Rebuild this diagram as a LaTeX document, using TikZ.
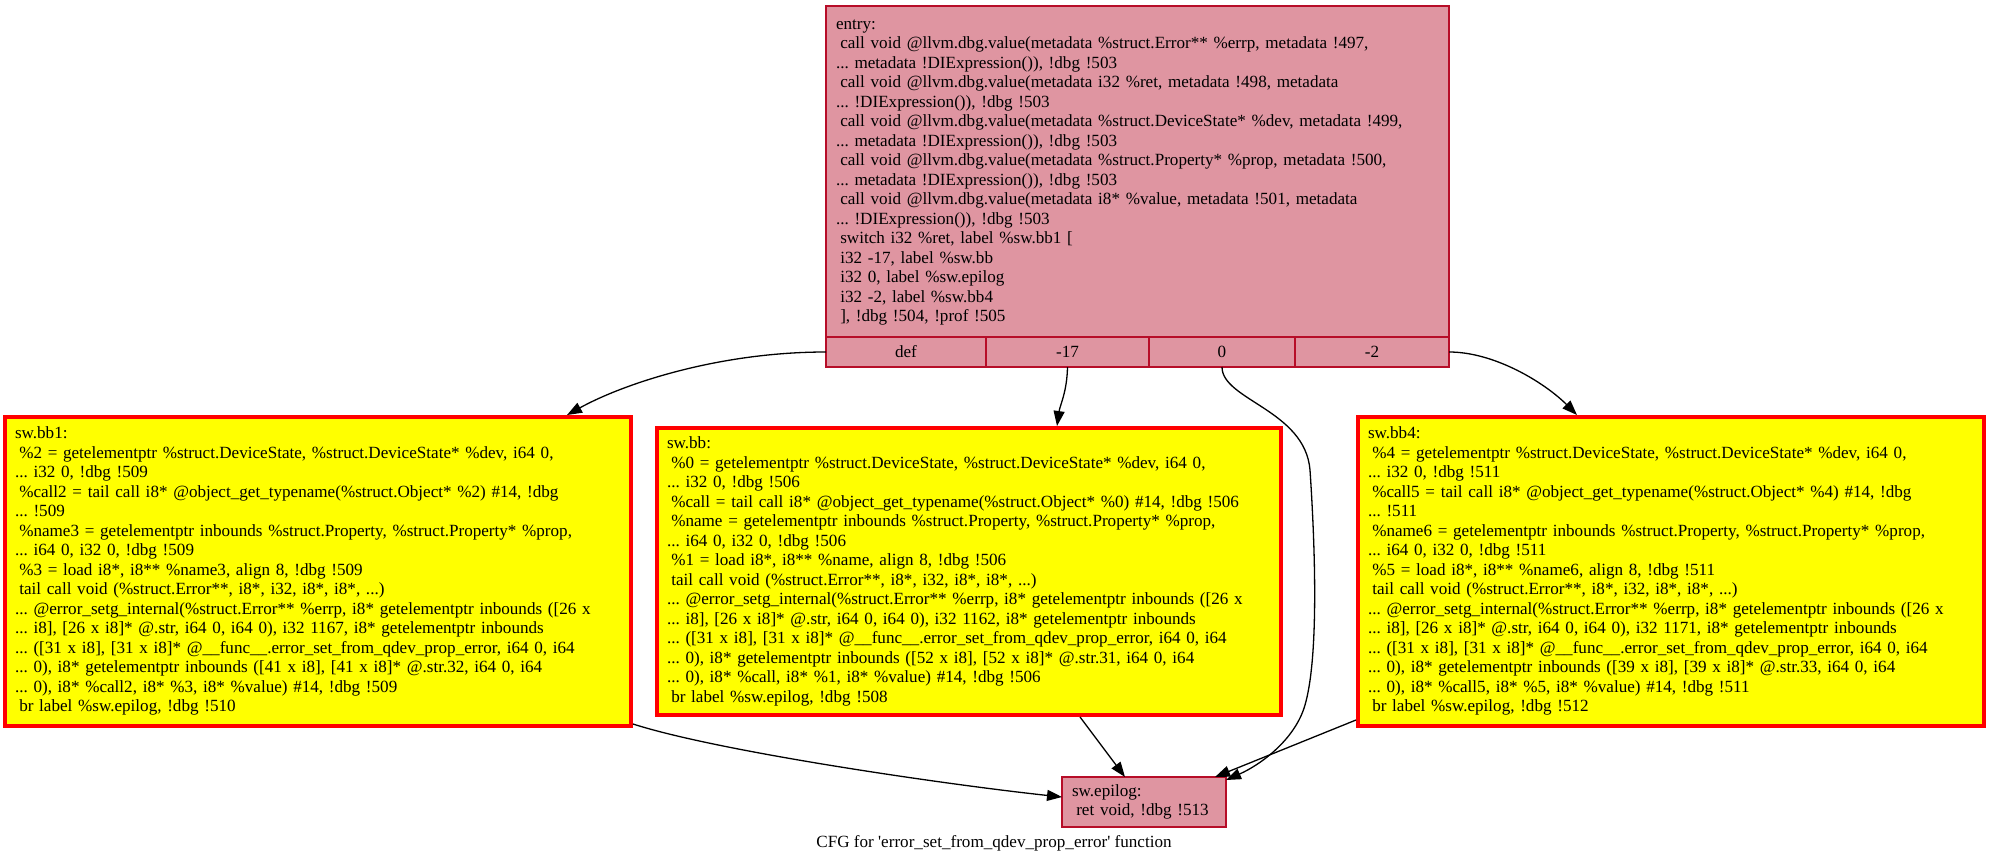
\documentclass[tikz,border=0pt]{standalone}
\usepackage{fontspec}
\newfontfamily\gvfont{Liberation Serif}
\usetikzlibrary{arrows.meta}

\definecolor{blockfill}{RGB}{223,149,161}
\definecolor{blockline}{RGB}{183,13,40}
\definecolor{hotfill}{RGB}{255,255,0}
\definecolor{hotline}{RGB}{255,0,0}

% graphviz-like text size on a 19.5pt line pitch
\newcommand\gvsize{\fontsize{17.1}{19.5}\selectfont}
% one leading blank, as in the dumped IR
\newcommand\isp{\hspace*{0.25em}}
% left-aligned multi-line label that never wraps
\newcommand\irlines[1]{\begin{tabular}{@{}l@{}}#1\end{tabular}}

\tikzset{
  every node/.style={font=\gvfont\gvsize\frenchspacing},
  pinkblock/.style={draw=blockline, fill=blockfill, line width=1.3pt, outer sep=0pt,
    anchor=north west, inner xsep=10pt, inner ysep=0pt, align=left},
  hotblock/.style={draw=hotline, fill=hotfill, line width=4pt,
    anchor=north west, inner xsep=10pt, inner ysep=0pt, align=left},
  portcell/.style={draw=blockline, fill=blockfill, line width=1.3pt, outer sep=0pt,
    anchor=north west, inner sep=0pt, minimum height=30pt},
  flow/.style={draw=black, line width=1.3pt, -{Triangle[length=15pt,width=11pt]}},
}

\begin{document}
\frenchspacing
\begin{tikzpicture}[x=1pt,y=-1pt]
\fill[white] (0,0) rectangle (1989,864);
\useasboundingbox (0,0) rectangle (1989,864);

% ---- entry block with its switch record ----
\node[pinkblock, minimum width=623pt, minimum height=331pt, text width=603pt] (entry) at (826,6) {\irlines{%
entry:\\
\isp call void @llvm.dbg.value(metadata \%struct.Error** \%errp, metadata !497,\\
... metadata !DIExpression()), !dbg !503\\
\isp call void @llvm.dbg.value(metadata i32 \%ret, metadata !498, metadata\\
... !DIExpression()), !dbg !503\\
\isp call void @llvm.dbg.value(metadata \%struct.DeviceState* \%dev, metadata !499,\\
... metadata !DIExpression()), !dbg !503\\
\isp call void @llvm.dbg.value(metadata \%struct.Property* \%prop, metadata !500,\\
... metadata !DIExpression()), !dbg !503\\
\isp call void @llvm.dbg.value(metadata i8* \%value, metadata !501, metadata\\
... !DIExpression()), !dbg !503\\
\isp switch i32 \%ret, label \%sw.bb1 [\\
\isp i32 -17, label \%sw.bb\\
\isp i32 0, label \%sw.epilog\\
\isp i32 -2, label \%sw.bb4\\
\isp ], !dbg !504, !prof !505}};

\node[portcell, minimum width=160pt] (pdef)  at (826,337)  {def};
\node[portcell, minimum width=163pt] (pm17)  at (986,337)  {-17};
\node[portcell, minimum width=146pt] (pzero) at (1149,337) {0};
\node[portcell, minimum width=154pt] (pm2)   at (1295,337) {-2};

% ---- switch targets ----
\node[hotblock, minimum width=626pt, minimum height=309pt, text width=606pt] (bbone) at (3,415) {\irlines{%
sw.bb1:\\
\isp \%2 = getelementptr \%struct.DeviceState, \%struct.DeviceState* \%dev, i64 0,\\
... i32 0, !dbg !509\\
\isp \%call2 = tail call i8* @object\_get\_typename(\%struct.Object* \%2) \#14, !dbg\\
... !509\\
\isp \%name3 = getelementptr inbounds \%struct.Property, \%struct.Property* \%prop,\\
... i64 0, i32 0, !dbg !509\\
\isp \%3 = load i8*, i8** \%name3, align 8, !dbg !509\\
\isp tail call void (\%struct.Error**, i8*, i32, i8*, i8*, ...)\\
... @error\_setg\_internal(\%struct.Error** \%errp, i8* getelementptr inbounds ([26 x\\
... i8], [26 x i8]* @.str, i64 0, i64 0), i32 1167, i8* getelementptr inbounds\\
... ([31 x i8], [31 x i8]* @\_\_func\_\_.error\_set\_from\_qdev\_prop\_error, i64 0, i64\\
... 0), i8* getelementptr inbounds ([41 x i8], [41 x i8]* @.str.32, i64 0, i64\\
... 0), i8* \%call2, i8* \%3, i8* \%value) \#14, !dbg !509\\
\isp br label \%sw.epilog, !dbg !510}};

\node[hotblock, minimum width=624pt, minimum height=287pt, text width=604pt] (bbm) at (655,426) {\irlines{%
sw.bb:\\
\isp \%0 = getelementptr \%struct.DeviceState, \%struct.DeviceState* \%dev, i64 0,\\
... i32 0, !dbg !506\\
\isp \%call = tail call i8* @object\_get\_typename(\%struct.Object* \%0) \#14, !dbg !506\\
\isp \%name = getelementptr inbounds \%struct.Property, \%struct.Property* \%prop,\\
... i64 0, i32 0, !dbg !506\\
\isp \%1 = load i8*, i8** \%name, align 8, !dbg !506\\
\isp tail call void (\%struct.Error**, i8*, i32, i8*, i8*, ...)\\
... @error\_setg\_internal(\%struct.Error** \%errp, i8* getelementptr inbounds ([26 x\\
... i8], [26 x i8]* @.str, i64 0, i64 0), i32 1162, i8* getelementptr inbounds\\
... ([31 x i8], [31 x i8]* @\_\_func\_\_.error\_set\_from\_qdev\_prop\_error, i64 0, i64\\
... 0), i8* getelementptr inbounds ([52 x i8], [52 x i8]* @.str.31, i64 0, i64\\
... 0), i8* \%call, i8* \%1, i8* \%value) \#14, !dbg !506\\
\isp br label \%sw.epilog, !dbg !508}};

\node[hotblock, minimum width=626pt, minimum height=309pt, text width=606pt] (bbfour) at (1356,415) {\irlines{%
sw.bb4:\\
\isp \%4 = getelementptr \%struct.DeviceState, \%struct.DeviceState* \%dev, i64 0,\\
... i32 0, !dbg !511\\
\isp \%call5 = tail call i8* @object\_get\_typename(\%struct.Object* \%4) \#14, !dbg\\
... !511\\
\isp \%name6 = getelementptr inbounds \%struct.Property, \%struct.Property* \%prop,\\
... i64 0, i32 0, !dbg !511\\
\isp \%5 = load i8*, i8** \%name6, align 8, !dbg !511\\
\isp tail call void (\%struct.Error**, i8*, i32, i8*, i8*, ...)\\
... @error\_setg\_internal(\%struct.Error** \%errp, i8* getelementptr inbounds ([26 x\\
... i8], [26 x i8]* @.str, i64 0, i64 0), i32 1171, i8* getelementptr inbounds\\
... ([31 x i8], [31 x i8]* @\_\_func\_\_.error\_set\_from\_qdev\_prop\_error, i64 0, i64\\
... 0), i8* getelementptr inbounds ([39 x i8], [39 x i8]* @.str.33, i64 0, i64\\
... 0), i8* \%call5, i8* \%5, i8* \%value) \#14, !dbg !511\\
\isp br label \%sw.epilog, !dbg !512}};

% ---- common exit ----
\node[pinkblock, minimum width=164pt, minimum height=50pt, text width=144pt] (epilog) at (1062,777) {\irlines{%
sw.epilog:\\
\isp ret void, !dbg !513}};

% ---- control-flow edges ----
\draw[flow] (pdef.west) .. controls (716,352) and (621,385) .. ([xshift=-66pt]bbone.north east);
\draw[flow] (pm17.south) .. controls (1067,392) and (1060,405) .. ([xshift=88pt]bbm.north);
\draw[flow] (pzero.south) .. controls (1222,400) and (1305,410) .. (1310,470)
            .. controls (1316,560) and (1318,660) .. (1305,705)
            .. controls (1295,740) and (1260,765) .. ([yshift=-3pt]epilog.north east);
\draw[flow] (pm2.east) .. controls (1495,352) and (1545,383) .. ([xshift=-94pt]bbfour.north);
\draw[flow] ([yshift=4pt]bbone.south east) .. controls (720,752) and (950,785) .. ([yshift=5pt]epilog.west);
\draw[flow] ([xshift=111pt]bbm.south) -- ([xshift=-19pt]epilog.north);
\draw[flow] ([yshift=8pt]bbfour.south west) -- ([xshift=-11pt]epilog.north east);

% ---- graph title ----
\node (title) at (994,843) {CFG for 'error\_set\_from\_qdev\_prop\_error' function};
\end{tikzpicture}
\end{document}
